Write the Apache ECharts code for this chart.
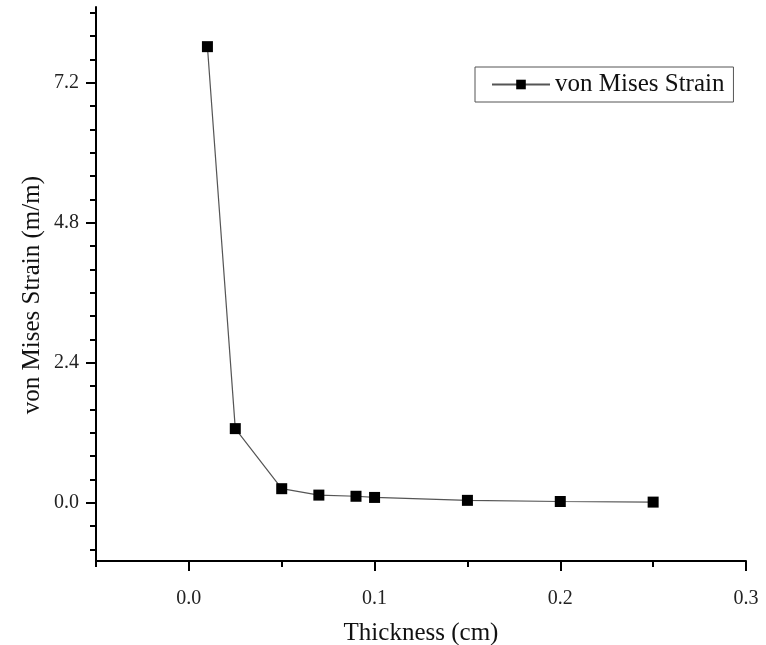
<!DOCTYPE html>
<html>
<head>
<meta charset="utf-8">
<script src="https://cdn.jsdelivr.net/npm/echarts@6/dist/echarts.min.js"></script>
<style>html,body{margin:0;padding:0;background:#fff;}#c{width:766px;height:645px;}</style>
</head>
<body>
<div id="c"></div>
<script>
const thickness = [0.01, 0.025, 0.05, 0.07, 0.09, 0.1, 0.15, 0.2, 0.25];
const strain = [7.82, 1.27, 0.24, 0.13, 0.11, 0.09, 0.04, 0.02, 0.01];
const xMajorTicks = [0, 0.1, 0.2, 0.3];
const xMinorTicks = [-0.05, 0.05, 0.15, 0.25];
const yMajorTicks = [0, 2.4, 4.8, 7.2];
const yMinorTicks = [-0.8, -0.4, 0.4, 0.8, 1.2, 1.6, 2.0, 2.8, 3.2, 3.6, 4.0, 4.4, 5.2, 5.6, 6.0, 6.4, 6.8, 7.6, 8.0, 8.4];
const seriesName = 'von Mises Strain';
const xTitle = 'Thickness (cm)';
const yTitle = 'von Mises Strain (m/m)';

const FONT = 'Liberation Serif';
const chart = echarts.init(document.getElementById('c'));
const mainLine = {show: true, onZero: false, lineStyle: {color: '#000', width: 2}};
chart.setOption({
  animation: false,
  backgroundColor: '#fff',
  grid: {left: 96, top: 7, width: 650, height: 554, containLabel: false, outerBoundsMode: 'none'},
  legend: {
    left: 475, top: 67,
    data: [seriesName],
    borderColor: '#555', borderWidth: 1,
    padding: [5, 9, 5, 16],
    itemWidth: 58, itemHeight: 12, itemGap: 6,
    textStyle: {fontFamily: FONT, fontSize: 25, color: '#111'}
  },
  graphic: [{
    type: 'text', left: 20, top: 176,
    style: {text: yTitle, font: '25px "Liberation Serif"', fill: '#111'},
    rotation: Math.PI / 2,
    z: 10
  }],
  xAxis: [{
    type: 'value', min: -0.05, max: 0.3, position: 'bottom',
    name: xTitle, nameLocation: 'middle', nameGap: 60,
    nameTextStyle: {fontFamily: FONT, fontSize: 25, color: '#111'},
    axisLine: mainLine,
    splitLine: {show: false},
    axisTick: {show: true, inside: false, length: 10, lineStyle: {color: '#000', width: 2}, customValues: xMajorTicks},
    axisLabel: {show: true, margin: 28, fontFamily: FONT, fontSize: 20, color: '#222', customValues: xMajorTicks, formatter: v => v.toFixed(1)}
  }, {
    type: 'value', min: -0.05, max: 0.3, position: 'bottom',
    axisLine: {show: false, onZero: false}, splitLine: {show: false},
    axisTick: {show: true, inside: false, length: 6, lineStyle: {color: '#000', width: 2}, customValues: xMinorTicks},
    axisLabel: {show: false}
  }],
  yAxis: [{
    type: 'value', min: -1, max: 8.5, position: 'left',
    axisLine: mainLine,
    splitLine: {show: false},
    axisTick: {show: true, inside: false, length: 10, lineStyle: {color: '#000', width: 2}, customValues: yMajorTicks},
    axisLabel: {show: true, margin: 17, fontFamily: FONT, fontSize: 20, color: '#222', customValues: yMajorTicks, formatter: v => v.toFixed(1)}
  }, {
    type: 'value', min: -1, max: 8.5, position: 'left',
    axisLine: {show: false, onZero: false}, splitLine: {show: false},
    axisTick: {show: true, inside: false, length: 6, lineStyle: {color: '#000', width: 2}, customValues: yMinorTicks},
    axisLabel: {show: false}
  }],
  series: [{
    name: seriesName,
    type: 'line',
    xAxisIndex: 0, yAxisIndex: 0,
    data: thickness.map((t, i) => [t, strain[i]]),
    symbol: 'rect', symbolSize: 11,
    showAllSymbol: true,
    lineStyle: {color: '#555', width: 1.2},
    itemStyle: {color: '#000'},
    emphasis: {disabled: true}
  }]
});
</script>
</body>
</html>
